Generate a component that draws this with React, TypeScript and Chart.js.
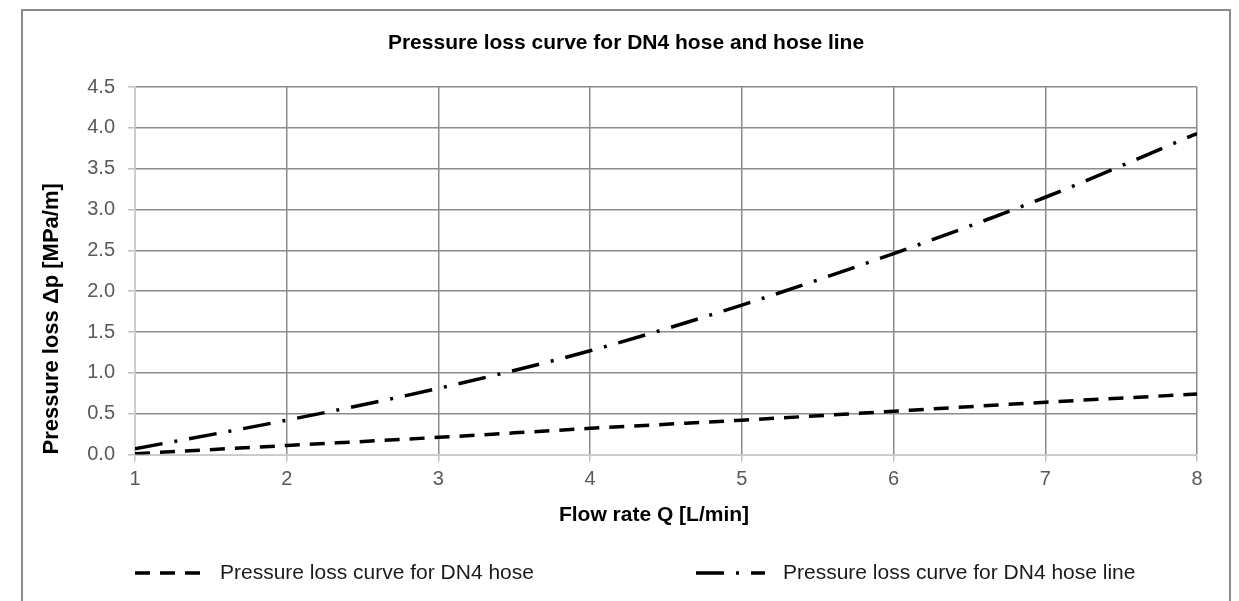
import React, { useEffect, useRef } from 'react';
import { Chart, registerables } from 'chart.js';

Chart.register(...registerables);

const flowRates = [1, 2, 3, 4, 5, 6, 7, 8];
const hoseLoss = [0.01, 0.11, 0.21, 0.32, 0.42, 0.53, 0.64, 0.74];
const hoseLineLoss = [0.07, 0.42, 0.81, 1.27, 1.83, 2.46, 3.15, 3.93];
const seriesLabels = ['Pressure loss curve for DN4 hose', 'Pressure loss curve for DN4 hose line'];
const chartTitle = 'Pressure loss curve for DN4 hose and hose line';
const xTitle = 'Flow rate Q [L/min]';
const yTitle = 'Pressure loss \u0394p [MPa/m]';

const FONT = '"Liberation Sans", Arial, sans-serif';

const titlePlugin = {
  id: 'centeredTitles',
  afterDraw(chart: any) {
    const { ctx, width, chartArea } = chart;
    ctx.save();
    ctx.fillStyle = '#000000';
    ctx.font = `bold 21px ${FONT}`;
    ctx.textAlign = 'center';
    ctx.textBaseline = 'middle';
    ctx.fillText(chartTitle, width / 2, 32);
    // x-axis title
    ctx.fillText(xTitle, (chartArea.left + chartArea.right) / 2 - 12, chartArea.bottom + 61);
    ctx.restore();
  },
};

const legendPlugin = {
  id: 'dashLegend',
  afterDraw(chart: any) {
    const { ctx, chartArea } = chart;
    const y = 562;
    const items = [
      { x: chartArea.left, len: 68, textGap: 85 },
      { x: chartArea.left + 561, len: 69, textGap: 87 },
    ];
    chart.data.datasets.forEach((ds: any, i: number) => {
      const it = items[i];
      ctx.save();
      ctx.strokeStyle = ds.borderColor;
      ctx.lineWidth = ds.borderWidth;
      ctx.setLineDash(ds.borderDash);
      ctx.beginPath();
      ctx.moveTo(it.x, y);
      ctx.lineTo(it.x + it.len, y);
      ctx.stroke();
      ctx.setLineDash([]);
      ctx.fillStyle = '#1a1a1a';
      ctx.font = `21px ${FONT}`;
      ctx.textBaseline = 'middle';
      ctx.textAlign = 'left';
      ctx.fillText(ds.label, it.x + it.textGap, y);
      ctx.restore();
    });
  },
};

export default function App() {
  const ref = useRef<HTMLCanvasElement>(null);
  useEffect(() => {
    if (!ref.current) return;
    Chart.defaults.font.family = FONT;
    const chart = new Chart(ref.current, {
      type: 'line',
      data: {
        datasets: [
          {
            label: seriesLabels[0],
            data: flowRates.map((x, i) => ({ x, y: hoseLoss[i] })),
            borderColor: '#000000',
            borderWidth: 3.5,
            borderDash: [15, 10],
            pointRadius: 0,
            fill: false,
            cubicInterpolationMode: 'monotone',
          },
          {
            label: seriesLabels[1],
            data: flowRates.map((x, i) => ({ x, y: hoseLineLoss[i] })),
            borderColor: '#000000',
            borderWidth: 3.5,
            borderDash: [28, 12, 3, 12],
            pointRadius: 0,
            fill: false,
            cubicInterpolationMode: 'monotone',
          },
        ],
      },
      options: {
        responsive: false,
        animation: false,
        layout: { padding: { left: 0, right: 32, top: 76, bottom: 104.5 } },
        plugins: {
          legend: { display: false },
          tooltip: { enabled: false },
          title: { display: false },
        },
        scales: {
          x: {
            type: 'linear',
            min: 1,
            max: 8,
            ticks: { stepSize: 1, color: '#595959', font: { size: 20, family: FONT }, padding: 5.5 },
            grid: { color: '#8c8c8c', tickLength: 7, tickColor: '#bfbfbf', lineWidth: 1.5 },
            border: { color: '#d0d0d0', width: 1.5 },
            title: { display: false },
          },
          y: {
            min: 0,
            max: 4.5,
            ticks: {
              stepSize: 0.5,
              color: '#595959',
              font: { size: 20, family: FONT },
              padding: 13,
              callback: (v: any) => Number(v).toFixed(1),
            },
            grid: { color: '#8c8c8c', tickLength: 7, tickColor: '#bfbfbf', lineWidth: 1.5 },
            border: { color: '#d0d0d0', width: 1.5 },
            title: {
              display: true,
              text: yTitle,
              align: 'start',
              color: '#000000',
              font: { size: 22, weight: 'bold', family: FONT },
              padding: { top: 16, bottom: 8.8 },
            },
          },
        },
      },
      plugins: [titlePlugin, legendPlugin],
    } as any);
    return () => chart.destroy();
  }, []);

  return (
    <div
      style={{
        position: 'fixed',
        left: 21,
        top: 9,
        width: 1206,
        height: 640,
        border: '2px solid #8c8c8c',
        background: '#ffffff',
      }}
    >
      <canvas ref={ref} width={1206} height={590} style={{ display: 'block' }} />
    </div>
  );
}
